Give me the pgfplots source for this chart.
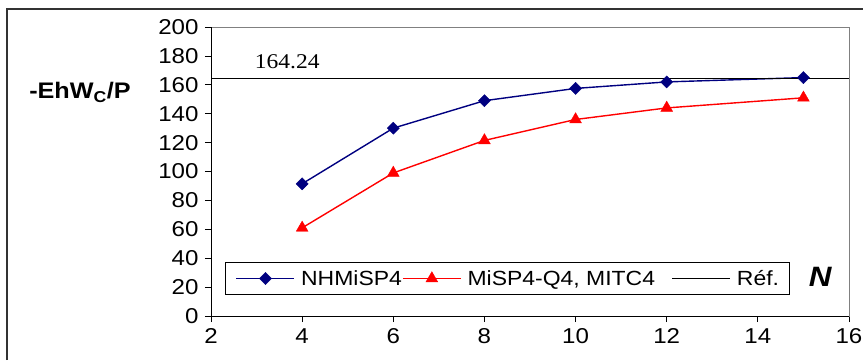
\documentclass[border=0pt]{standalone}
\usepackage{fontspec}
\setmainfont{Liberation Sans}[FakeStretch=1.12]
\newfontfamily\serifnum{Liberation Serif}[FakeStretch=1.12]
\usepackage{pgfplots}
\pgfplotsset{compat=1.18}
\definecolor{navy}{RGB}{0,0,128}
\begin{document}
\begin{tikzpicture}[x=1pt,y=1pt]
\useasboundingbox (0,0) rectangle (863,360);
\draw[line width=2pt, black!80] (7,0) -- (7,351) -- (863,351);
\begin{axis}[
  at={(211pt,44pt)}, anchor=south west,
  scale only axis, width=638pt, height=289pt,
  xmin=2, xmax=16, ymin=0, ymax=200,
  xtick={2,4,...,16}, ytick={0,20,...,200},
  tick align=outside, xtick pos=bottom, ytick pos=left,
  major tick length=6pt,
  tick style={black, line width=0.8pt},
  axis line style={draw=gray, line width=1pt},
  /pgf/number format/assume math mode=true,
  ticklabel style={font=\fontsize{21.5}{23}\selectfont},
  yticklabel style={xshift=-3pt},
  xticklabel style={yshift=-3pt},
  legend columns=3,
  legend style={at={(0.0225,0.072)}, anchor=south west, draw=black, line width=0.8pt,
    font=\fontsize{20.5}{22}\selectfont, inner xsep=10pt, inner ysep=8pt,
    nodes={inner sep=0pt, anchor=west},
    /tikz/every odd column/.append style={column sep=6pt},
    /tikz/every even column/.append style={column sep=0pt}},
  legend image code/.code={\draw[mark repeat=2,mark phase=2,#1] plot coordinates {(0pt,0pt) (29pt,0pt) (58pt,0pt)};},
  clip=false,
]
\addplot[navy, line width=1.4pt, mark=square*, mark size=4.3pt, mark options={fill=navy, solid, rotate=45, line width=0.4pt}]
  coordinates {(4,91.5) (6,130) (8,149) (10,157.5) (12,162) (15,165)};
\addlegendentry{\makebox[101pt][l]{NHMiSP4}}
\addplot[red, line width=1.4pt, mark=triangle*, mark size=6.8pt, mark options={fill=red, solid, line width=0.4pt}]
  coordinates {(4,61) (6,99) (8,121.5) (10,136) (12,144) (15,151)};
\addlegendentry{\makebox[204pt][l]{MiSP4-Q4, MITC4}}
\addplot[black, line width=1.4pt]
  coordinates {(2,164.24) (16,164.24)};
\addlegendentry{Réf.}
\draw[black, line width=1pt] (rel axis cs:0,1) -- (rel axis cs:0,0) -- (rel axis cs:1,0);
\node[anchor=base west, font=\serifnum\fontsize{21}{23}\selectfont, inner sep=0pt] at (axis cs:2.96,171.6) {164.24};
\node[font=\fontsize{28}{30}\selectfont\bfseries\itshape] at (rel axis cs:0.955,0.135) {N};
\end{axis}
\node[font=\fontsize{22.5}{24}\selectfont\bfseries] at (80,268) {-EhW\textsubscript{C}/P};
\end{tikzpicture}
\end{document}
